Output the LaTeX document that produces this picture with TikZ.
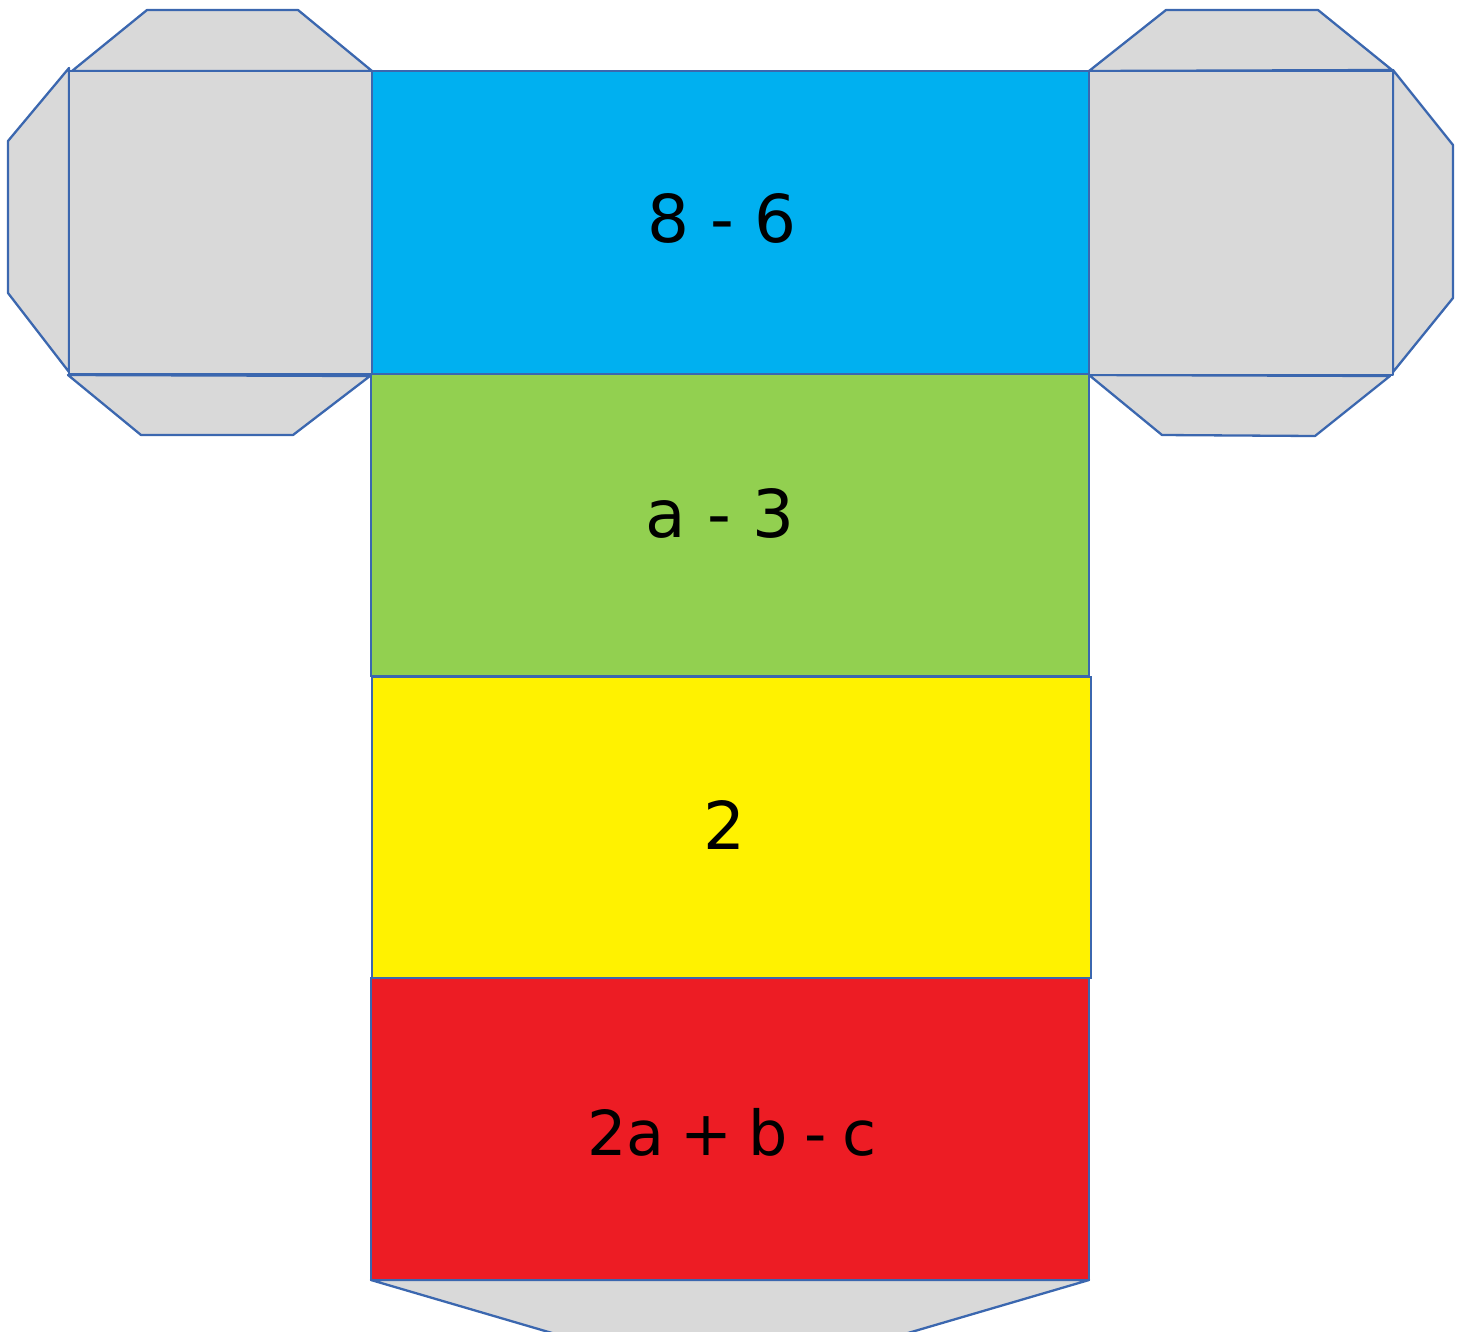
\documentclass[tikz,border=0pt]{standalone}
\usepackage{fontspec}
\setmainfont{DejaVu Sans}
\definecolor{edge}{HTML}{3B67AF}
\definecolor{flapgray}{HTML}{D9D9D9}
\definecolor{faceblue}{HTML}{00B0F0}
\definecolor{facegreen}{HTML}{92D050}
\definecolor{faceyellow}{HTML}{FFF200}
\definecolor{facered}{HTML}{ED1C24}
\tikzset{
  flap/.style={fill=flapgray, draw=edge, line width=2.3pt, line join=round},
  face/.style={draw=edge, line width=2.3pt, line join=miter},
  label/.style={font=\fontsize{66}{76}\selectfont, text=black, inner sep=0pt}
}
\begin{document}
\begin{tikzpicture}[x=1pt, y=-1pt]
\useasboundingbox (0,0) rectangle (1466,1331);
% left flaps
\draw[flap] (72,71) -- (147,10) -- (298,10) -- (372,71) -- cycle;
\draw[flap] (69,68) -- (8,141) -- (8,293) -- (69,372) -- cycle;
\draw[flap] (68,375) -- (141,435) -- (293,435) -- (370,376) -- cycle;
\draw[flap] (69,71) rectangle (372,374);
% right flaps
\draw[flap] (1089,71) -- (1166,10) -- (1318,10) -- (1392,70) -- cycle;
\draw[flap] (1393,70) -- (1453,145) -- (1453,298) -- (1393,372) -- cycle;
\draw[flap] (1089,375) -- (1162,435) -- (1315,436) -- (1390,376) -- cycle;
\draw[flap] (1089,71) rectangle (1393,375);
% bottom flap
\draw[flap] (371,1280) -- (593,1345) -- (867,1345) -- (1089,1280) -- cycle;
% faces
\draw[face, fill=faceblue] (372,71) rectangle (1089,374);
\draw[face, fill=facegreen] (371,374) rectangle (1089,676);
\draw[face, fill=faceyellow] (372,677) rectangle (1091,978);
\draw[face, fill=facered] (371,978) rectangle (1089,1280);
% labels
\node[label] (t1) at (722,218) {8 - 6};
\node[label] (t2) at (720,513) {a - 3};
\node[label] (t3) at (724,825) {2};
\node[label, font=\fontsize{62}{72}\selectfont] (t4) at (732,1132) {\spaceskip=16pt 2a + b - c};
\end{tikzpicture}
\end{document}
